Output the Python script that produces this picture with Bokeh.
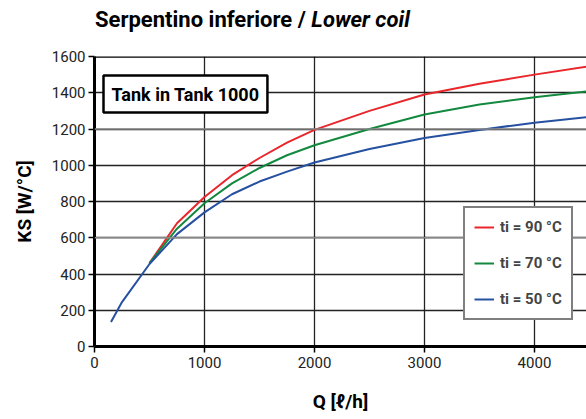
from bokeh.plotting import figure
from bokeh.models import Label, Span, Legend, LegendItem, Range1d, FixedTicker, Div
from bokeh.layouts import column
from bokeh.embed import file_html
from bokeh.resources import INLINE

FONT = "Roboto"

q = [500, 750, 1000, 1250, 1500, 1750, 2000, 2500, 3000, 3500, 4000, 4480]
ks_90 = [460, 680, 825, 945, 1040, 1125, 1195, 1300, 1390, 1450, 1500, 1545]
ks_70 = [460, 650, 790, 900, 985, 1055, 1110, 1200, 1280, 1335, 1375, 1408]
q_50 = [150, 250, 500, 750, 1000, 1250, 1500, 1750, 2000, 2500, 3000, 3500, 4000, 4480]
ks_50 = [135, 245, 455, 620, 740, 840, 910, 965, 1015, 1090, 1150, 1195, 1235, 1265]
x_ticks = [0, 1000, 2000, 3000, 4000]
y_ticks = [0, 200, 400, 600, 800, 1000, 1200, 1400, 1600]
labels = ["ti = 90 °C", "ti = 70 °C", "ti = 50 °C"]
colors = ["#e8262b", "#13893f", "#2650a0"]

title = Div(text='<div style="padding:8px 0 0 95px; font-family:Roboto; font-weight:bold; '
                 'font-size:22px; line-height:24px; color:black; white-space:nowrap">'
                 'Serpentino inferiore / <i>Lower coil</i></div>',
            width=586, height=48, margin=0)

p = figure(width=586, height=371, output_backend="svg", toolbar_location=None,
           x_range=Range1d(0, 4473), y_range=Range1d(0, 1600),
           min_border_left=94, min_border_right=0, min_border_top=8, min_border_bottom=73,
           margin=0)
p.outline_line_color = None
p.background_fill_color = "white"

p.xaxis.ticker = FixedTicker(ticks=x_ticks)
p.yaxis.ticker = FixedTicker(ticks=y_ticks)
for ax in (p.xaxis[0], p.yaxis[0]):
    ax.axis_line_width = 3
    ax.axis_line_color = "black"
    ax.major_tick_line_color = "black"
    ax.major_tick_line_width = 1.5
    ax.major_tick_out = 6
    ax.major_tick_in = 0
    ax.minor_tick_line_color = None
    ax.major_label_text_font = FONT
    ax.major_label_text_font_size = "15px"
    ax.major_label_text_color = "#222222"
    ax.axis_label_text_font = FONT
    ax.axis_label_text_font_style = "bold"
    ax.axis_label_text_font_size = "19px"
    ax.axis_label_text_color = "black"
p.xaxis.axis_label = "Q [ℓ/h]"
p.yaxis.axis_label = "KS [W/°C]"
p.xaxis.axis_label_standoff = 19
p.yaxis.axis_label_standoff = 13
p.xaxis.major_label_standoff = 4
p.yaxis.major_label_standoff = 3

p.xgrid.grid_line_color = "#222222"
p.xgrid.grid_line_width = 1.3
p.ygrid.grid_line_color = "#222222"
p.ygrid.grid_line_width = 1.3
for yv in (600, 1200):
    p.add_layout(Span(location=yv, dimension="width", line_color="#888888", line_width=1.5))
p.add_layout(Span(location=1600, dimension="width", line_color="black", line_width=2.5))

r90 = p.line(q, ks_90, line_color=colors[0], line_width=2)
r70 = p.line(q, ks_70, line_color=colors[1], line_width=2)
r50 = p.line(q_50, ks_50, line_color=colors[2], line_width=2)

legend = Legend(items=[LegendItem(label=labels[0], renderers=[r90]),
                       LegendItem(label=labels[1], renderers=[r70]),
                       LegendItem(label=labels[2], renderers=[r50])],
                location=(369, 26), orientation="vertical")
legend.border_line_color = "black"
legend.border_line_width = 2.5
legend.background_fill_alpha = 1
legend.label_text_font = FONT
legend.label_text_font_style = "bold"
legend.label_text_font_size = "15px"
legend.glyph_width = 20
legend.glyph_height = 20
legend.spacing = 16
legend.padding = 9
legend.margin = 0
legend.label_standoff = 6
p.add_layout(legend)

p.add_layout(Label(x=9, y=234, x_units="screen", y_units="screen", text="Tank in Tank 1000",
                   text_font=FONT, text_font_style="bold", text_font_size="18px",
                   text_baseline="bottom", text_align="left", text_color="black",
                   padding=8, border_line_color="black", border_line_width=2.5,
                   background_fill_color="white"))

layout = column(title, p, spacing=0, margin=0)
open("out.html", "w").write(file_html(layout, INLINE))
